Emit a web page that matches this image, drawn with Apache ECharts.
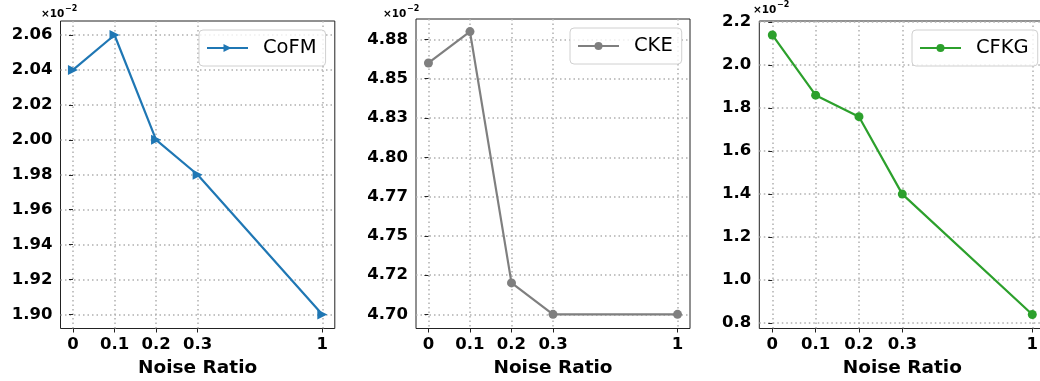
<!DOCTYPE html>
<html>
<head>
<meta charset="utf-8">
<script src="https://cdn.jsdelivr.net/npm/echarts@6/dist/echarts.min.js"></script>
<style>
html,body{margin:0;padding:0;background:#fff;}
#chart{width:1040px;height:381px;}
</style>
</head>
<body>
<div id="chart"></div>
<script>
// x slots: matplotlib placed ratios at evenly spaced slots, with "1" three slots after "0.3"
const xSlots = ['0', '0.1', '0.2', '0.3', '', '', '1'];
const noiseRatios = ['0', '0.1', '0.2', '0.3', '1'];

// values in units of 1e-2
const cofmValues = [2.04, 2.06, 2.00, 1.98, 1.90];
const ckeValues = [4.86, 4.88, 4.72, 4.70, 4.70];
const cfkgValues = [2.14, 1.86, 1.76, 1.40, 0.84];

const cofmTicks = [1.90, 1.92, 1.94, 1.96, 1.98, 2.00, 2.02, 2.04, 2.06];
const cofmTickLabels = ['1.90', '1.92', '1.94', '1.96', '1.98', '2.00', '2.02', '2.04', '2.06'];
const ckeTicks = [4.700, 4.725, 4.750, 4.775, 4.800, 4.825, 4.850, 4.875];
const ckeTickLabels = ['4.70', '4.72', '4.75', '4.77', '4.80', '4.83', '4.85', '4.88'];
const cfkgTicks = [0.8, 1.0, 1.2, 1.4, 1.6, 1.8, 2.0, 2.2];
const cfkgTickLabels = ['0.8', '1.0', '1.2', '1.4', '1.6', '1.8', '2.0', '2.2'];

const FONT = 'DejaVu Sans';
const xTickPos = noiseRatios.map(r => xSlots.indexOf(r));
function pairs(vals) { return vals.map((v, i) => [xSlots.indexOf(noiseRatios[i]), v]); }
function labelFor(ticks, labels) {
  return v => { let best = 0; for (let i = 0; i < ticks.length; i++) if (Math.abs(ticks[i] - v) < Math.abs(ticks[best] - v)) best = i; return labels[best]; };
}

const grids = [
  {left: 60.5, top: 21, width: 274.3, height: 307.5},
  {left: 416, top: 19, width: 274, height: 309.5},
  {left: 759.3, top: 21, width: 286, height: 307.5}
];
const yDefs = [
  {min: 1.892, max: 2.068, ticks: cofmTicks, labels: cofmTickLabels},
  {min: 4.691, max: 4.888, ticks: ckeTicks, labels: ckeTickLabels},
  {min: 0.775, max: 2.205, ticks: cfkgTicks, labels: cfkgTickLabels}
];
const seriesDefs = [
  {name: 'CoFM', data: cofmValues, color: '#1f77b4', symbol: 'triangle', rotate: -90, size: 10},
  {name: 'CKE', data: ckeValues, color: '#7f7f7f', symbol: 'circle', rotate: 0, size: 9},
  {name: 'CFKG', data: cfkgValues, color: '#2ca02c', symbol: 'circle', rotate: 0, size: 9}
];
const legendPos = [
  {left: 199, top: 30},
  {left: 570, top: 28},
  {left: 912, top: 30}
];
const sciPos = [
  {x: 41, y: 13},
  {x: 383, y: 13},
  {x: 753, y: 8.5}
];

const splitStyle = {show: true, lineStyle: {color: '#b0b0b0', type: [1.5, 3], width: 1.5}};

const option = {
  animation: false,
  backgroundColor: '#fff',
  grid: grids.map(g => Object.assign({show: true, borderColor: '#222', borderWidth: 1, backgroundColor: 'transparent', containLabel: false, outerBoundsMode: 'none'}, g)),
  xAxis: grids.map((g, i) => ({
    type: 'value', gridIndex: i, min: -0.3, max: 6.3,
    name: 'Noise Ratio', nameLocation: 'middle', nameGap: 28,
    nameTextStyle: {fontFamily: FONT, fontWeight: 'bold', fontSize: 18.5, color: '#000'},
    axisLine: {show: false},
    axisTick: {show: true, inside: false, length: 4, customValues: xTickPos, lineStyle: {color: '#222', width: 1}},
    axisLabel: {customValues: xTickPos, formatter: v => xSlots[Math.round(v)], margin: 8,
      fontFamily: FONT, fontWeight: 'bold', fontSize: 16.5, color: '#000'},
    splitLine: splitStyle
  })),
  yAxis: yDefs.map((y, i) => ({
    type: 'value', gridIndex: i, min: y.min, max: y.max,
    axisLine: {show: false},
    axisTick: {show: true, inside: false, length: 4, customValues: y.ticks, lineStyle: {color: '#222', width: 1}},
    axisLabel: {customValues: y.ticks, formatter: labelFor(y.ticks, y.labels), margin: 8,
      fontFamily: FONT, fontWeight: 'bold', fontSize: 16.5, color: '#000'},
    splitLine: splitStyle
  })),
  legend: seriesDefs.map((s, i) => ({
    data: [s.name], left: legendPos[i].left, top: legendPos[i].top,
    orient: 'horizontal', itemWidth: 41, itemHeight: 10,
    padding: [8, 9, 8, 7],
    backgroundColor: 'rgba(255,255,255,0.8)', borderColor: '#d0d0d0', borderWidth: 1, borderRadius: 4,
    textStyle: {fontFamily: FONT, fontSize: 19.5, color: '#000', padding: [0, 0, 0, 10]},
    selectedMode: false
  })),
  graphic: sciPos.map(p => ({
    type: 'group', left: p.x, top: p.y - 8,
    children: [
      {type: 'text', left: 0, top: 2, style: {text: '×10', fontFamily: FONT, fontSize: 10.5, fontWeight: 'bold', fill: '#000'}},
      {type: 'text', left: 24, top: -2, style: {text: '−2', fontFamily: FONT, fontSize: 8, fontWeight: 'bold', fill: '#000'}}
    ]
  })),
  series: seriesDefs.map((s, i) => ({
    name: s.name, type: 'line', xAxisIndex: i, yAxisIndex: i,
    data: pairs(s.data),
    symbol: s.symbol, symbolSize: s.size, symbolRotate: s.rotate, showSymbol: true,
    lineStyle: {color: s.color, width: 2.2},
    itemStyle: {color: s.color},
    clip: false, z: 3
  }))
};

const chart = echarts.init(document.getElementById('chart'), null, {renderer: 'canvas'});
chart.setOption(option);
</script>
</body>
</html>
